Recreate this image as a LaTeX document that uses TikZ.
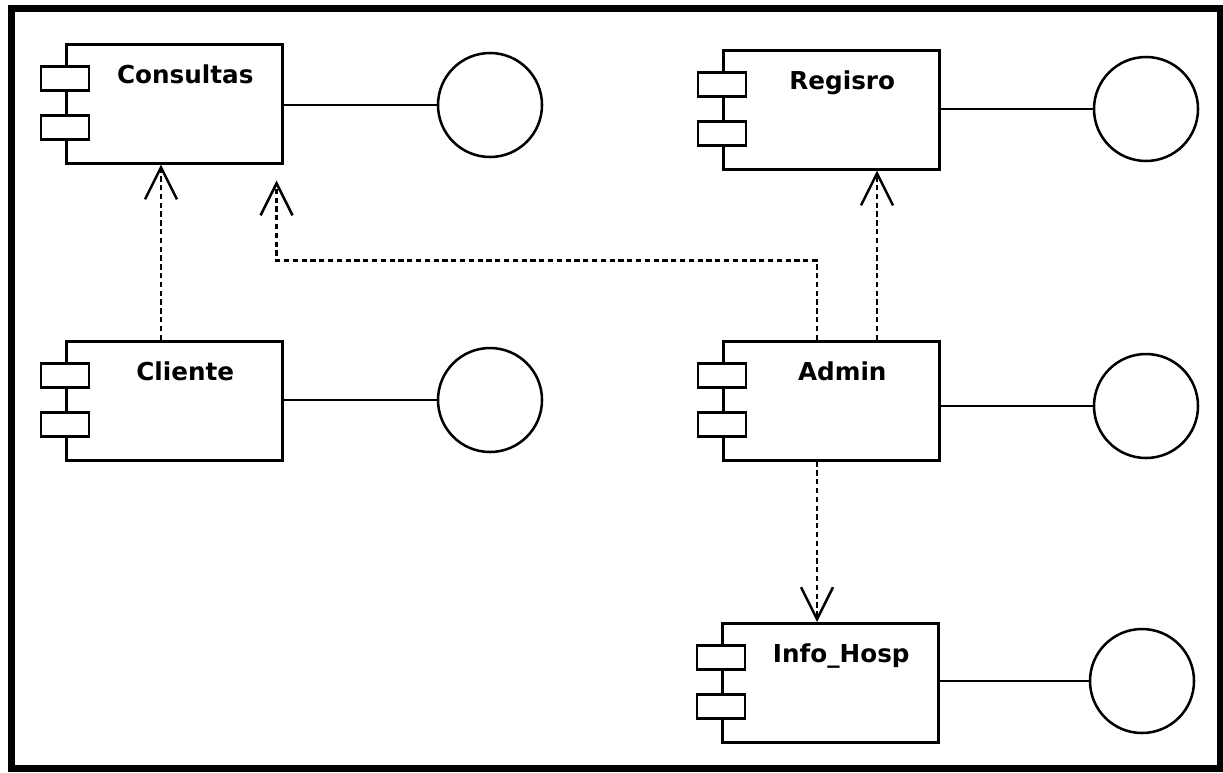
\documentclass[tikz,border=0pt]{standalone}
\usepackage{fontspec}
\setmainfont{DejaVu Sans}
\usetikzlibrary{arrows.meta,calc}

% one UML component: outer box, two port tabs on its left edge, bold title
\newcommand\umlcomp[4]{%
  \node[compbox, anchor=north west] (#1) at (#2,#3) {};
  \node[porttab] (#1-p1) at ($(#1.north west)+(0,35.5)$) {};
  \node[porttab] (#1-p2) at ($(#1.north west)+(0,84.5)$) {};
  \node[complabel] (#1-t) at ($(#1.north)+(11,40)$) {#4};
}

\begin{document}
\begin{tikzpicture}[x=0.75pt, y=-0.75pt,
  compbox/.style={draw, line width=1.9pt, fill=white, minimum width=162pt,
    minimum height=89.25pt, inner sep=0pt},
  porttab/.style={draw, line width=1.9pt, fill=white, minimum width=36pt,
    minimum height=18pt, inner sep=0pt},
  complabel/.style={anchor=base, inner sep=0pt,
    font=\fontsize{18.5}{20}\selectfont\bfseries},
  iface/.style={draw, circle, line width=1.9pt, minimum size=78pt, inner sep=0pt},
  wire/.style={line width=1.9pt},
  dep/.style={line width=1.9pt, dash pattern=on 4pt off 2.6pt,
    -{Straight Barb[length=24pt, width=24pt]}},
  frame/.style={line width=5.25pt}]

\useasboundingbox (0,0) rectangle (1223,772);
\draw[frame] (11,8.5) rectangle (1220,768);

% components
\umlcomp{cons}{65}{43}{Consultas}
\umlcomp{reg}{722}{49}{Regisro}
\umlcomp{cli}{65}{340}{Cliente}
\umlcomp{adm}{722}{340}{Admin}
\umlcomp{info}{721}{622}{Info\_Hosp}

% provided interfaces
\node[iface] (cons-i) at (490,105) {};
\node[iface] (reg-i) at (1146,109) {};
\node[iface] (cli-i) at (490,400) {};
\node[iface] (adm-i) at (1146,406) {};
\node[iface] (info-i) at (1142,681) {};

\draw[wire] (cons-i.west -| cons.east) -- (cons-i.west);
\draw[wire] (reg-i.west -| reg.east) -- (reg-i.west);
\draw[wire] (cli-i.west -| cli.east) -- (cli-i.west);
\draw[wire] (adm-i.west -| adm.east) -- (adm-i.west);
\draw[wire] (info-i.west -| info.east) -- (info-i.west);

% dependencies
\draw[dep] ($(cli.north west)+(96,0)$) coordinate (d1) -- (d1 |- cons.south);
\coordinate (d2end) at ($(cons.south east)+(-7,16)$);
\draw[dep] ($(adm.north west)+(95,0)$) coordinate (d2)
  |- ($(d2end)+(0,80)$) -- (d2end);
\draw[dep] ($(adm.north west)+(155,0)$) coordinate (d3) -- (d3 |- reg.south);
\draw[dep] ($(adm.south west)+(95,0)$) coordinate (d4) -- (d4 |- info.north);
\end{tikzpicture}
\end{document}
